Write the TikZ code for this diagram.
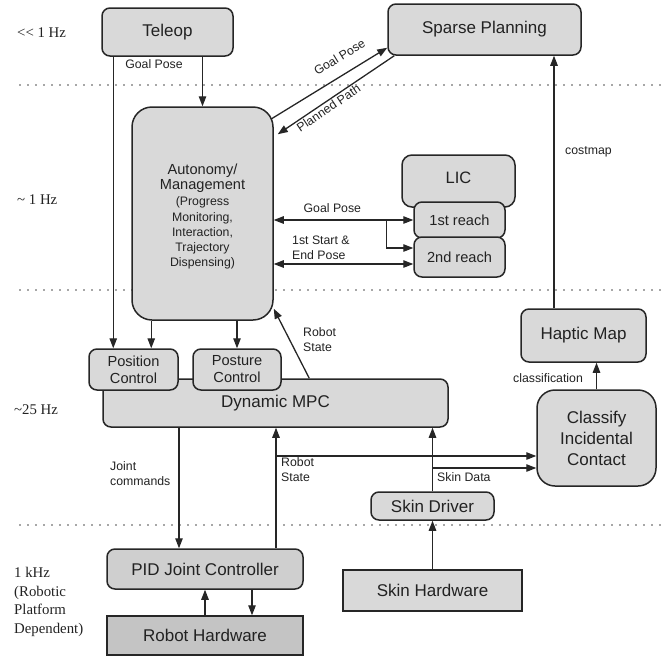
\documentclass[tikz,border=0pt]{standalone}
\usepackage{fontspec}
\setmainfont{Liberation Sans}
\newfontfamily\serifr{Liberation Serif}
\usetikzlibrary{arrows.meta,calc}
\definecolor{boxfill}{HTML}{D9D9D9}
\definecolor{hwfill}{HTML}{C4C4C4}
\definecolor{edgec}{HTML}{262626}
\definecolor{txt}{HTML}{222222}
\begin{document}
\begin{tikzpicture}[x=1pt,y=-1pt,
 blk/.style={draw=edgec, line width=1.5pt, fill=boxfill, rounded corners=8pt, inner sep=0pt, text=txt, font=\fontsize{17}{20}\selectfont, align=center},
 sqblk/.style={blk, rounded corners=0pt},
 arr/.style={draw=edgec, line width=1.3pt, -{Triangle[length=10pt,width=7.5pt]}},
 rarr/.style={draw=edgec, line width=1.3pt, {Triangle[length=10pt,width=7.5pt]}-},
 darr/.style={draw=edgec, line width=1.3pt, {Triangle[length=10pt,width=7.5pt]}-{Triangle[length=10pt,width=7.5pt]}},
 lbl/.style={font=\fontsize{12.3}{15}\selectfont, text=txt, inner sep=0pt, align=left},
 freq/.style={font=\serifr\fontsize{14.8}{18.7}\selectfont, text=txt, inner sep=0pt, align=left, anchor=west},
 sepline/.style={draw=black!70, line width=1.7pt, dash pattern=on 0pt off 8pt, line cap=round}
]
\useasboundingbox (0,0) rectangle (664,656);

% separators
\draw[sepline] (20,85) -- (662,85);
\draw[sepline] (20,290) -- (662,290);
\draw[sepline] (20,525) -- (662,525);

% frequency labels
\node[freq] at (17,33) {\textless\textless{} 1 Hz};
\node[freq] at (17,200) {\textasciitilde{} 1 Hz};
\node[freq] at (14,410) {\textasciitilde25 Hz};
\node[freq] at (14,602) {1 kHz\\(Robotic\\Platform\\Dependent)};

% boxes
\node[blk, minimum width=131pt, minimum height=48pt] (teleop) at (167.5,32) {Teleop};
\node[blk, minimum width=193pt, minimum height=51pt] (sparse) at (484.5,29.5) {Sparse Planning};
\node[blk, minimum width=141pt, minimum height=213pt, rounded corners=20pt,
  label={[yshift=-3pt, align=center, text=txt, font=\fontsize{12.3}{15.2}\selectfont]center:{\fontsize{14.6}{18}\selectfont Autonomy/}\\[0pt]{\fontsize{14.6}{18}\selectfont Management}\\[1pt](Progress\\Monitoring,\\Interaction,\\Trajectory\\Dispensing)}] (auto) at (202.5,213.5) {};
\node[blk, minimum width=113pt, minimum height=52pt, rounded corners=10pt,
  label={[yshift=3pt, font=\fontsize{16.5}{18}\selectfont, text=txt]center:LIC}] (lic) at (458.5,181) {};
\node[blk, minimum width=91pt, minimum height=36pt, font=\fontsize{14.6}{17}\selectfont] (reach1) at (459.5,220) {1st reach};
\node[blk, minimum width=91pt, minimum height=40pt, font=\fontsize{14.6}{17}\selectfont] (reach2) at (459.5,257) {2nd reach};
\node[blk, minimum width=345pt, minimum height=48pt] (mpc) at (275.5,403) {Dynamic MPC};
\node[blk, minimum width=89pt, minimum height=41pt, font=\fontsize{14.6}{17}\selectfont] (pos) at (133.5,369.5) {Position\\Control};
\node[blk, minimum width=88pt, minimum height=41pt, font=\fontsize{14.6}{17}\selectfont] (post) at (237,369.5) {Posture\\Control};
\node[blk, minimum width=125pt, minimum height=53pt] (haptic) at (583.5,335.5) {Haptic Map};
\node[blk, minimum width=119pt, minimum height=96pt, rounded corners=18pt, font=\fontsize{17}{21}\selectfont] (classify) at (596.5,438) {Classify\\Incidental\\Contact};
\node[blk, minimum width=123pt, minimum height=28pt] (skindrv) at (432.5,506) {Skin Driver};
\node[blk, fill=black!19, minimum width=196pt, minimum height=40pt] (pid) at (205,569) {PID Joint Controller};
\node[sqblk, fill=hwfill, minimum width=196pt, minimum height=39pt] (rh) at (205,635.5) {Robot Hardware};
\node[sqblk, minimum width=179pt, minimum height=41pt] (skinhw) at (432.5,590.5) {Skin Hardware};

% teleop connections
\draw[arr] (teleop.south -| auto.north) -- (auto.north);
\coordinate (tl) at ([xshift=12pt]teleop.south west);
\draw[arr] (tl) -- (tl |- pos.north);
\node[lbl] at (154,64) {Goal Pose};

% autonomy to controls
\coordinate (ap) at ([xshift=20pt]auto.south west);
\draw[arr] (ap) -- (ap |- pos.north);
\draw[arr] (auto.south -| post.north) -- (post.north);

% robot state to autonomy
\coordinate (ms) at ([xshift=207pt]mpc.north west);
\coordinate (ae) at ([yshift=12pt]auto.south east);
\draw[arr] (ms) -- (ae);
\node[lbl, anchor=west] at (303,340) {Robot\\State};

% sparse planning
\coordinate (g1) at ([xshift=-3pt,yshift=-13pt]auto.north east);
\coordinate (g2) at ([yshift=8pt]sparse.south west);
\draw[arr] (g1) -- node[lbl, pos=0.667, sloped, above=12pt] {Goal Pose} (g2);
\coordinate (p1) at ([xshift=7pt]sparse.south west);
\coordinate (p2) at ([xshift=4pt,yshift=-28pt]auto.north east);
\draw[rarr] (p2) -- node[lbl, pos=0.404, sloped, below=1.5pt] {Planned Path} (p1);

% LIC
\coordinate (r1) at (reach1.west);
\draw[darr] (auto.east |- r1) -- node[lbl, pos=0.42, above=6.5pt] {Goal Pose} (r1);
\coordinate (br) at ($(auto.east |- r1)!0.81!(r1)$);
\draw[arr] (br) |- ([yshift=9pt]reach2.west);
\coordinate (r2) at ([yshift=-7pt]reach2.west);
\draw[darr] (auto.east |- r2) -- (r2);
\node[lbl, anchor=west] at (292,247.5) {1st Start \&\\End Pose};

% costmap / classification
\coordinate (hc) at ([xshift=-29.5pt]haptic.north);
\draw[arr] (hc) -- (hc |- sparse.south);
\node[lbl, anchor=west] at (565,152) {costmap};
\draw[arr] (classify.north) -- (classify.north |- haptic.south);
\node[lbl] at (548,378) {classification};

% joint commands
\coordinate (jc) at ([xshift=-26pt]pid.north);
\draw[arr] (mpc.south -| jc) -- (jc);
\node[lbl, anchor=west] at (110,474) {Joint\\commands};

% robot state up
\coordinate (rs) at ([xshift=71pt]pid.north);
\draw[arr] (rs) -- (rs |- mpc.south);
\coordinate (c1) at ([yshift=-18pt]classify.west);
\draw[arr] (rs |- c1) -- (c1);
\node[lbl, anchor=west] at (281,470) {Robot\\State};

% skin data
\draw[arr] (skindrv.north) -- (skindrv.north |- mpc.south);
\coordinate (c2) at ([yshift=-30pt]classify.west);
\draw[arr] (skindrv.north |- c2) -- (c2);
\node[lbl, anchor=west] at (437,477) {Skin Data};

% hardware
\draw[arr] (skinhw.north) -- (skinhw.north |- skindrv.south);
\draw[arr] (rh.north) -- (rh.north |- pid.south);
\coordinate (pd) at ([xshift=47pt]pid.south);
\draw[arr] (pd) -- (pd |- rh.north);
\end{tikzpicture}
\end{document}
